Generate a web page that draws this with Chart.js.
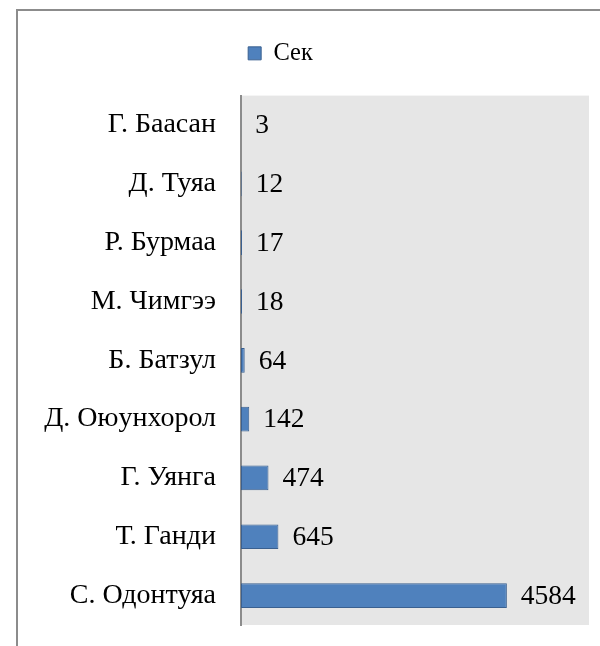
<!DOCTYPE html>
<html>
<head>
<meta charset="utf-8">
<script src="https://cdn.jsdelivr.net/npm/chart.js@4/dist/chart.umd.min.js"></script>
<style>
html, body { margin: 0; background: #fff; }
#wrap { width: 600px; height: 646px; }
</style>
</head>
<body>
<div id="wrap"><canvas id="secChart"></canvas></div>
<script>
const names = ['Г. Баасан', 'Д. Туяа', 'Р. Бурмаа', 'М. Чимгээ', 'Б. Батзул', 'Д. Оюунхорол', 'Г. Уянга', 'Т. Ганди', 'С. Одонтуяа'];
const seconds = [3, 12, 17, 18, 64, 142, 474, 645, 4584];
const seriesName = 'Сек';
const axisMax = 6000;

const serif = "'Liberation Serif', 'Times New Roman', serif";
Chart.defaults.font.family = serif;
Chart.defaults.color = '#000';

// frame around the chart and gray plot area
const backdrop = {
    id: 'backdrop',
    beforeDraw(chart) {
        const ctx = chart.ctx;
        const a = chart.chartArea;
        ctx.save();
        ctx.fillStyle = '#e6e6e6';
        ctx.fillRect(a.left, a.top, a.right - a.left, a.bottom - a.top);
        ctx.strokeStyle = '#8c8c8c';
        ctx.lineWidth = 2;
        ctx.beginPath();
        ctx.moveTo(17, chart.height);
        ctx.lineTo(17, 10);
        ctx.lineTo(chart.width, 10);
        ctx.stroke();
        ctx.restore();
    }
};

// extra room under the legend, and move it a bit to the left
const legendGap = {
    id: 'legendGap',
    beforeInit(chart) {
        const fit = chart.legend.fit;
        chart.legend.fit = function() {
            fit.call(this);
            this.height += 20;
        };
    },
    afterLayout(chart) {
        chart.legend.left -= 14;
        chart.legend.right -= 14;
    }
};

// value next to each bar
const valueLabels = {
    id: 'valueLabels',
    afterDatasetsDraw(chart) {
        const ctx = chart.ctx;
        const meta = chart.getDatasetMeta(0);
        ctx.save();
        ctx.font = '27.5px ' + serif;
        ctx.fillStyle = '#000';
        ctx.textAlign = 'left';
        ctx.textBaseline = 'middle';
        meta.data.forEach((bar, i) => {
            ctx.fillText(String(seconds[i]), bar.x + 14, bar.y + 1);
        });
        ctx.restore();
    }
};

const ctx = document.getElementById('secChart').getContext('2d');
new Chart(ctx, {
    type: 'bar',
    data: {
        labels: names,
        datasets: [{
            label: seriesName,
            data: seconds,
            backgroundColor: '#4f81bd',
            borderColor: '#3a6090',
            borderWidth: 1,
            borderSkipped: false,
            barPercentage: 0.42,
            categoryPercentage: 1
        }]
    },
    options: {
        indexAxis: 'y',
        responsive: true,
        maintainAspectRatio: false,
        animation: false,
        layout: {
            padding: { top: 13.5, right: 11, bottom: 21, left: 0 }
        },
        plugins: {
            legend: {
                position: 'top',
                labels: {
                    font: { family: serif, size: 24.5 },
                    color: '#000',
                    boxWidth: 13,
                    boxHeight: 13,
                    padding: 27.6
                }
            },
            tooltip: { enabled: false }
        },
        scales: {
            x: {
                display: false,
                min: 0,
                max: axisMax
            },
            y: {
                grid: { display: false },
                border: { color: '#8c8c8c', width: 2 },
                ticks: {
                    font: { family: serif, size: 28 },
                    color: '#000',
                    padding: 17
                },
                afterFit(scale) {
                    scale.width = 241;
                    scale.paddingTop = 0;
                    scale.paddingBottom = 0;
                }
            }
        }
    },
    plugins: [backdrop, legendGap, valueLabels]
});
</script>
</body>
</html>
